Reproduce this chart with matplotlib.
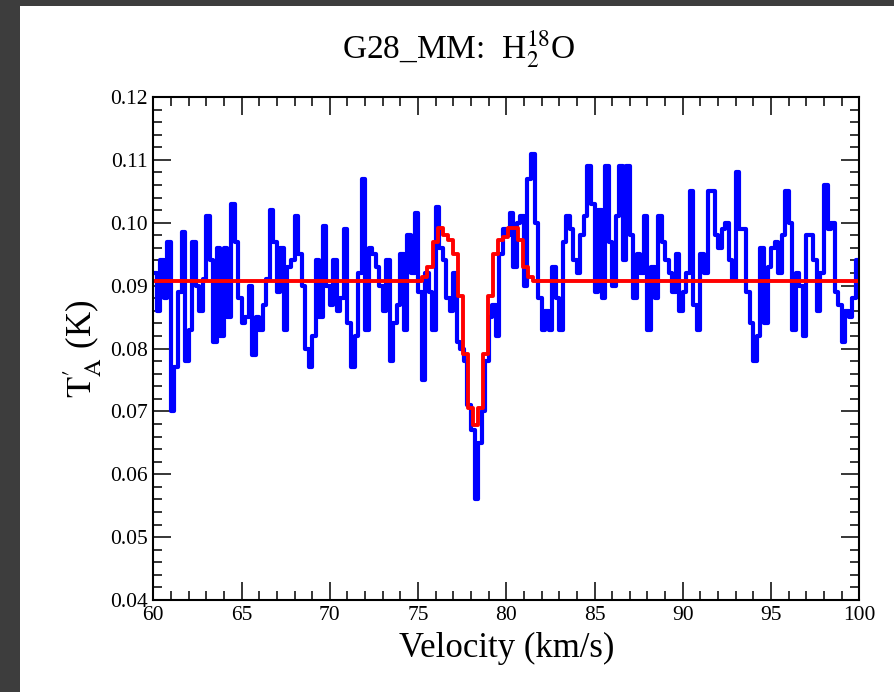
import numpy as np
import matplotlib
matplotlib.use("Agg")
import matplotlib.pyplot as plt
from matplotlib.patches import Rectangle
from matplotlib.ticker import MultipleLocator

plt.rcParams['font.family'] = ['Liberation Serif', 'DejaVu Serif']
plt.rcParams['mathtext.fontset'] = 'stix'

# observed spectrum, 0.2 km/s channels starting at 60 km/s
chan_width = 0.2
v_start = 60.0
ta_obs = [
    0.092, 0.086, 0.094, 0.088, 0.097, 0.070, 0.077, 0.089, 0.0985, 0.078,
    0.083, 0.097, 0.090, 0.086, 0.091, 0.101, 0.094, 0.081, 0.096, 0.082,
    0.096, 0.085, 0.103, 0.097, 0.088, 0.084, 0.085, 0.090, 0.079, 0.085,
    0.083, 0.087, 0.091, 0.102, 0.097, 0.089, 0.096, 0.083, 0.093, 0.094,
    0.101, 0.095, 0.090, 0.080, 0.077, 0.082, 0.094, 0.085, 0.0995, 0.090,
    0.087, 0.094, 0.086, 0.088, 0.099, 0.084, 0.077, 0.082, 0.092, 0.107,
    0.083, 0.096, 0.095, 0.093, 0.090, 0.086, 0.094, 0.078, 0.084, 0.087,
    0.095, 0.083, 0.098, 0.092, 0.1015, 0.089, 0.075, 0.092, 0.089, 0.083,
    0.1025, 0.096, 0.094, 0.088, 0.086, 0.092, 0.081, 0.080, 0.078, 0.071,
    0.067, 0.056, 0.065, 0.070, 0.078, 0.085, 0.087, 0.082, 0.095, 0.099,
    0.098, 0.1015, 0.093, 0.100, 0.101, 0.090, 0.107, 0.111, 0.100, 0.088,
    0.083, 0.086, 0.083, 0.093, 0.088, 0.083, 0.097, 0.101, 0.099, 0.094,
    0.092, 0.098, 0.101, 0.109, 0.103, 0.089, 0.102, 0.088, 0.109, 0.097,
    0.090, 0.101, 0.109, 0.094, 0.109, 0.098, 0.088, 0.095, 0.092, 0.101,
    0.083, 0.093, 0.088, 0.101, 0.097, 0.094, 0.092, 0.089, 0.095,
    0.086, 0.089, 0.092, 0.105, 0.087, 0.083, 0.095, 0.092, 0.105, 0.105,
    0.098, 0.096, 0.099, 0.100, 0.094, 0.091, 0.108, 0.099, 0.099, 0.089,
    0.084, 0.078, 0.082, 0.096, 0.084, 0.093, 0.096, 0.097, 0.092, 0.098,
    0.105, 0.100, 0.083, 0.092, 0.090, 0.082, 0.098, 0.098, 0.094, 0.086,
    0.092, 0.106, 0.099, 0.100, 0.089, 0.087, 0.081, 0.086, 0.085, 0.088,
    0.094,
]

# fitted model: bin edges and level in each bin
model_edges = [60.0, 75.25, 75.535, 75.82, 76.105, 76.39, 76.675, 76.96,
               77.245, 77.53, 77.815, 78.10, 78.385, 78.67, 78.955, 79.24,
               79.525, 79.81, 80.095, 80.38, 80.665, 80.95, 81.235, 81.52,
               100.0]
model_ta = [0.0907, 0.0914, 0.0930, 0.0970, 0.0991, 0.0981, 0.0973, 0.0951,
            0.0883, 0.0792, 0.0705, 0.0679, 0.0705, 0.0792, 0.0883, 0.0951,
            0.0973, 0.0977, 0.0992, 0.0992, 0.0972, 0.0930, 0.0914, 0.0907]

ta_obs = np.array(ta_obs)
v_edges = v_start + chan_width * np.arange(len(ta_obs) + 1)

fig = plt.figure(figsize=(8.95, 6.92), dpi=100)
fig.patch.set_facecolor('#3d3d3d')
# white page inside the dark frame
fig.patches.append(Rectangle((20 / 895, 0), 875 / 895, 686 / 692,
                             transform=fig.transFigure, facecolor='white',
                             edgecolor='none', zorder=-10))

ax = fig.add_axes([0.1713, 0.1329, 0.7888, 0.7269])
ax.step(v_edges, np.append(ta_obs, ta_obs[-1]), where='post',
        color='#0000ff', lw=3.0)
ax.step(model_edges, model_ta + [model_ta[-1]], where='post',
        color='#ff0000', lw=2.8)

ax.set_xlim(60, 100)
ax.set_ylim(0.04, 0.12)
ax.xaxis.set_major_locator(MultipleLocator(5))
ax.xaxis.set_minor_locator(MultipleLocator(1))
ax.yaxis.set_major_locator(MultipleLocator(0.01))
ax.yaxis.set_minor_locator(MultipleLocator(0.002))
ax.yaxis.set_major_formatter(lambda t, pos: f"{t:.2f}")

ax.tick_params(which='both', direction='in', top=True, right=True,
               labelsize=15.5, width=1.1, pad=4)
ax.tick_params(which='major', length=13)
ax.tick_params(which='minor', length=6.5)
for sp in ax.spines.values():
    sp.set_linewidth(1.5)

ax.set_xlabel("Velocity (km/s)", fontsize=25, labelpad=5)
ax.set_ylabel(r"$\mathrm{T}_\mathrm{A}^{\prime}$ (K)", fontsize=25, labelpad=4)
fig.text(459 / 895, 1 - 49 / 692, r"G28_MM:  H$_2^{18}$O", fontsize=24,
         ha='center', va='center')

fig.savefig("out.png", dpi=100, facecolor=fig.get_facecolor())
